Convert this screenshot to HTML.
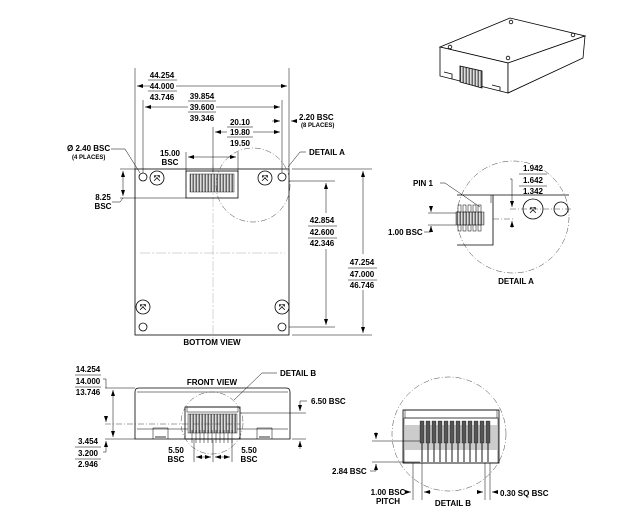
<!DOCTYPE html>
<html><head><style>
html,body{margin:0;padding:0;background:#fff;}
svg{display:block;}
text{font-family:"Liberation Sans",Arial,sans-serif;font-weight:bold;font-size:8px;fill:#000;}
.s{font-size:6px;}
.c{text-anchor:middle;}
.l{stroke:#000;stroke-width:0.8;fill:none;}
.t{stroke:#000;stroke-width:0.5;fill:none;}
.d{stroke:#444;stroke-width:0.5;fill:none;stroke-dasharray:6,2,1,2;}
.cl{stroke:#aaa;stroke-width:0.5;fill:none;stroke-dasharray:10,2,2,2;}
</style></head><body>
<svg width="632" height="516" viewBox="0 0 632 516" xmlns="http://www.w3.org/2000/svg">
<defs>
<marker id="a" markerWidth="6" markerHeight="6" refX="6" refY="3" orient="auto-start-reverse" markerUnits="userSpaceOnUse"><path d="M0,1 L6,3 L0,5z" fill="#000"/></marker>
<pattern id="p" width="3" height="4" patternUnits="userSpaceOnUse"><rect width="3" height="4" fill="#ddd"/><rect x="0.5" width="1.5" height="4" fill="#666"/></pattern>
</defs>

<!-- 3D iso -->
<g stroke="#000" stroke-width="0.8" fill="#fff">
<polygon points="440,47 510,18 585,36 508,63"/>
<polygon points="440,47 508,63 508,93 440,76"/>
<polygon points="508,63 585,36 583,58 508,93"/>
<polygon points="460,66 482,71 482,88 460,82" fill="url(#p)"/>
<circle cx="450" cy="47" r="1.8"/><circle cx="511" cy="22" r="1.8"/><circle cx="573" cy="35" r="1.8"/><circle cx="508" cy="58" r="1.8"/>
<polyline points="444,72 452,74 452,79" fill="none"/><polyline points="492,85 500,87 500,91" fill="none"/>
</g>

<!-- BOTTOM VIEW -->
<rect x="135" y="169" width="154" height="166" class="l"/>
<line x1="213" y1="165" x2="213" y2="340" class="cl"/>
<line x1="140" y1="253" x2="285" y2="253" class="cl"/>
<rect x="186" y="171" width="52" height="27" class="l"/>
<rect x="190" y="174" width="44" height="18" fill="url(#p)" stroke="#000" stroke-width="0.4"/>
<g class="l">
<circle cx="143" cy="177" r="4"/><circle cx="282" cy="177" r="4"/>
<circle cx="143" cy="327" r="4"/><circle cx="282" cy="327" r="4"/>
<circle cx="157" cy="178" r="7"/><circle cx="265" cy="178" r="7"/>
<circle cx="143" cy="307" r="7"/><circle cx="282" cy="307" r="7"/>
</g>
<g font-size="9" text-anchor="middle" font-weight="bold" font-family="Liberation Sans,sans-serif">
<text x="157" y="181" class="c">⤧</text><text x="265" y="181" class="c">⤧</text><text x="143" y="310" class="c">⤧</text><text x="282" y="310" class="c">⤧</text>
</g>
<circle cx="253" cy="185" r="37" class="d"/>

<!-- dims top -->
<line x1="135" y1="68" x2="135" y2="169" class="t"/><line x1="289" y1="68" x2="289" y2="169" class="t"/>
<line x1="137" y1="86" x2="150" y2="86" class="t" marker-start="url(#a)"/><line x1="176" y1="86" x2="287" y2="86" class="t" marker-end="url(#a)"/>
<text x="162" y="78" class="c">44.254</text><line x1="148" y1="80" x2="177" y2="80" class="t"/>
<text x="162" y="89" class="c">44.000</text><line x1="148" y1="91" x2="177" y2="91" class="t"/>
<text x="162" y="100" class="c">43.746</text>
<line x1="143" y1="100" x2="143" y2="173" class="t"/><line x1="282" y1="100" x2="282" y2="173" class="t"/>
<line x1="145" y1="107" x2="188" y2="107" class="t" marker-start="url(#a)"/><line x1="216" y1="107" x2="280" y2="107" class="t" marker-end="url(#a)"/>
<text x="202" y="99" class="c">39.854</text><line x1="188" y1="101" x2="216" y2="101" class="t"/>
<text x="202" y="110" class="c">39.600</text><line x1="188" y1="112" x2="216" y2="112" class="t"/>
<text x="202" y="121" class="c">39.346</text>
<line x1="213" y1="127" x2="213" y2="172" class="t"/>
<line x1="215" y1="132" x2="227" y2="132" class="t" marker-start="url(#a)"/><line x1="253" y1="132" x2="280" y2="132" class="t" marker-end="url(#a)"/>
<text x="240" y="125" class="c">20.10</text><line x1="227" y1="127" x2="253" y2="127" class="t"/>
<text x="240" y="135" class="c">19.80</text><line x1="227" y1="137" x2="253" y2="137" class="t"/>
<text x="240" y="146" class="c">19.50</text>
<line x1="272" y1="121" x2="280" y2="121" class="t" marker-end="url(#a)"/><line x1="297" y1="121" x2="291" y2="121" class="t" marker-end="url(#a)"/>
<text x="299" y="120">2.20 BSC</text><text x="301" y="127" class="s">(8 PLACES)</text>
<line x1="186" y1="152" x2="186" y2="172" class="t"/><line x1="238" y1="152" x2="238" y2="172" class="t"/>
<line x1="188" y1="157" x2="236" y2="157" class="t" marker-start="url(#a)" marker-end="url(#a)"/>
<text x="170" y="156" class="c">15.00</text><text x="170" y="165" class="c">BSC</text>
<text x="67" y="151">Ø 2.40 BSC</text><text x="72" y="159" class="s">(4 PLACES)</text>
<polyline points="111,149 125,149 140,173" class="t"/>
<line x1="120" y1="198" x2="186" y2="198" class="t"/>
<line x1="123" y1="171" x2="123" y2="196" class="t" marker-start="url(#a)" marker-end="url(#a)"/>
<line x1="120" y1="169" x2="135" y2="169" class="t"/>
<polyline points="112,202 120,202 123,198" class="t"/>
<text x="103" y="200" class="c">8.25</text><text x="103" y="209" class="c">BSC</text>
<polyline points="288,167 300,152 306,152" class="t"/><text x="309" y="155">DETAIL A</text>
<!-- right dims -->
<line x1="289" y1="181" x2="335" y2="181" class="t"/><line x1="289" y1="327" x2="335" y2="327" class="t"/>
<line x1="326" y1="183" x2="326" y2="213" class="t" marker-start="url(#a)"/><line x1="326" y1="249" x2="326" y2="325" class="t" marker-end="url(#a)"/>
<text x="322" y="223" class="c">42.854</text><line x1="308" y1="226" x2="337" y2="226" class="t"/>
<text x="322" y="235" class="c">42.600</text><line x1="308" y1="238" x2="337" y2="238" class="t"/>
<text x="322" y="246" class="c">42.346</text>
<line x1="292" y1="169" x2="372" y2="169" class="t"/><line x1="292" y1="335" x2="372" y2="335" class="t"/>
<line x1="363" y1="171" x2="363" y2="254" class="t" marker-start="url(#a)"/><line x1="363" y1="290" x2="363" y2="333" class="t" marker-end="url(#a)"/>
<text x="362" y="265" class="c">47.254</text><line x1="348" y1="268" x2="377" y2="268" class="t"/>
<text x="362" y="277" class="c">47.000</text><line x1="348" y1="280" x2="377" y2="280" class="t"/>
<text x="362" y="288" class="c">46.746</text>
<text x="212" y="345" class="c">BOTTOM VIEW</text>

<!-- DETAIL A -->
<circle cx="513" cy="217" r="56" class="d"/>
<line x1="457" y1="195" x2="569" y2="195" class="l"/>
<polyline points="457,245 493,245 493,195" class="l"/>
<line x1="491" y1="195" x2="491" y2="203" class="t"/>
<rect x="456" y="212" width="28" height="13" fill="url(#p)" stroke="#000" stroke-width="0.4"/>
<g class="t"><rect x="458" y="205" width="3" height="7"/><rect x="463" y="205" width="3" height="7"/><rect x="468" y="205" width="3" height="7"/><rect x="473" y="205" width="3" height="7"/><rect x="478" y="205" width="3" height="7"/>
<rect x="458" y="225" width="3" height="6"/><rect x="463" y="225" width="3" height="6"/><rect x="468" y="225" width="3" height="6"/><rect x="473" y="225" width="3" height="6"/><rect x="478" y="225" width="3" height="6"/></g>
<circle cx="533" cy="209" r="10" class="l"/><circle cx="561" cy="209" r="7" class="l"/>
<text x="533" y="213" class="c" font-size="10">⤧</text>
<line x1="510" y1="209" x2="572" y2="209" class="d"/>
<line x1="493" y1="219" x2="515" y2="219" class="d"/>
<line x1="512" y1="200" x2="512" y2="207" class="t" marker-end="url(#a)"/><line x1="512" y1="228" x2="512" y2="221" class="t" marker-end="url(#a)"/>
<polyline points="510,179 512,179 512,200" class="t"/>
<text x="533" y="171" class="c">1.942</text><line x1="519" y1="174" x2="547" y2="174" class="t"/>
<text x="533" y="183" class="c">1.642</text><line x1="519" y1="186" x2="547" y2="186" class="t"/>
<text x="533" y="194" class="c">1.342</text>
<text x="413" y="186">PIN 1</text><polyline points="440,183 445,183 480,207" class="t"/>
<line x1="428" y1="213" x2="456" y2="213" class="t"/><line x1="428" y1="225" x2="456" y2="225" class="t"/>
<line x1="431" y1="206" x2="431" y2="212" class="t" marker-end="url(#a)"/><line x1="431" y1="232" x2="431" y2="226" class="t" marker-end="url(#a)"/>
<polyline points="424,232 431,232 431,226" class="t"/>
<text x="388" y="235">1.00 BSC</text>
<text x="516" y="284" class="c">DETAIL A</text>

<!-- FRONT VIEW -->
<path d="M135,439 L135,392 Q135,388 139,388 L286,388 Q290,388 290,392 L290,439 Z" class="l"/>
<line x1="137" y1="392" x2="288" y2="392" class="t"/>
<line x1="137" y1="429" x2="288" y2="429" class="t"/>
<polyline points="153,439 153,428 168,428 168,439" class="t"/><polyline points="257,439 257,428 272,428 272,439" class="t"/>
<line x1="155" y1="437" x2="166" y2="437" class="l"/><line x1="259" y1="437" x2="270" y2="437" class="l"/>
<rect x="185" y="407" width="55" height="32" class="l"/>
<rect x="187" y="407" width="51" height="5" class="t"/>
<rect x="188" y="414" width="49" height="19" fill="url(#p)" stroke="#000" stroke-width="0.4"/>
<g stroke="#000" stroke-width="0.5"><line x1="192" y1="430" x2="192" y2="443"/><line x1="196" y1="430" x2="196" y2="443"/><line x1="200" y1="430" x2="200" y2="443"/><line x1="204" y1="430" x2="204" y2="443"/><line x1="208" y1="430" x2="208" y2="443"/><line x1="212" y1="430" x2="212" y2="443"/><line x1="216" y1="430" x2="216" y2="443"/><line x1="220" y1="430" x2="220" y2="443"/><line x1="224" y1="430" x2="224" y2="443"/><line x1="228" y1="430" x2="228" y2="443"/><line x1="232" y1="430" x2="232" y2="443"/></g>
<circle cx="212" cy="423" r="31" class="d"/>
<line x1="105" y1="424" x2="240" y2="424" class="d"/>
<line x1="240" y1="413" x2="306" y2="413" class="t"/>
<line x1="300" y1="402" x2="300" y2="411" class="t" marker-end="url(#a)"/><line x1="300" y1="449" x2="300" y2="441" class="t" marker-end="url(#a)"/>
<line x1="292" y1="439" x2="306" y2="439" class="t"/>
<polyline points="300,402 300,401 307,401" class="t"/><text x="311" y="404">6.50 BSC</text>
<line x1="105" y1="388" x2="135" y2="388" class="t"/><line x1="105" y1="439" x2="135" y2="439" class="t"/>
<line x1="113" y1="390" x2="113" y2="437" class="t" marker-start="url(#a)" marker-end="url(#a)"/>
<line x1="106" y1="417" x2="106" y2="422" class="t" marker-end="url(#a)"/><line x1="106" y1="446" x2="106" y2="441" class="t" marker-end="url(#a)"/>
<polyline points="103,379 106,379 106,388" class="t"/><polyline points="103,452 106,452 106,446" class="t"/>
<text x="88" y="372" class="c">14.254</text><line x1="75" y1="375" x2="101" y2="375" class="t"/>
<text x="88" y="384" class="c">14.000</text><line x1="75" y1="387" x2="101" y2="387" class="t"/>
<text x="88" y="395" class="c">13.746</text>
<text x="88" y="444" class="c">3.454</text><line x1="75" y1="447" x2="101" y2="447" class="t"/>
<text x="88" y="456" class="c">3.200</text><line x1="75" y1="459" x2="101" y2="459" class="t"/>
<text x="88" y="467" class="c">2.946</text>
<text x="212" y="385" class="c">FRONT VIEW</text>
<polyline points="234,400 262,373 277,373" class="t"/><text x="280" y="376">DETAIL B</text>
<line x1="194" y1="440" x2="194" y2="462" class="t"/><line x1="213" y1="440" x2="213" y2="462" class="t"/><line x1="232" y1="440" x2="232" y2="462" class="t"/>
<line x1="196" y1="457" x2="211" y2="457" class="t" marker-start="url(#a)" marker-end="url(#a)"/>
<line x1="215" y1="457" x2="230" y2="457" class="t" marker-start="url(#a)" marker-end="url(#a)"/>
<text x="176" y="453" class="c">5.50</text><text x="176" y="462" class="c">BSC</text>
<text x="249" y="453" class="c">5.50</text><text x="249" y="462" class="c">BSC</text>

<!-- DETAIL B -->
<circle cx="449" cy="434" r="57" class="d"/>
<rect x="403" y="410" width="96" height="53" class="l"/>
<rect x="405" y="410" width="92" height="8" class="t"/>
<rect x="405" y="425" width="92" height="25" fill="#ccc" stroke="none"/>
<rect x="404" y="418" width="94" height="45" class="t"/>
<g fill="#555" stroke="#000" stroke-width="0.3">
<rect x="420" y="421" width="4" height="22"/><rect x="426" y="421" width="4" height="22"/><rect x="432" y="421" width="4" height="22"/><rect x="438" y="421" width="4" height="22"/><rect x="444" y="421" width="4" height="22"/><rect x="450" y="421" width="4" height="22"/><rect x="456" y="421" width="4" height="22"/><rect x="462" y="421" width="4" height="22"/><rect x="468" y="421" width="4" height="22"/><rect x="474" y="421" width="4" height="22"/><rect x="480" y="421" width="4" height="22"/><rect x="486" y="421" width="4" height="22"/>
</g>
<g stroke="#000" stroke-width="0.9"><line x1="422" y1="443" x2="422" y2="462"/><line x1="428" y1="443" x2="428" y2="462"/><line x1="434" y1="443" x2="434" y2="462"/><line x1="440" y1="443" x2="440" y2="462"/><line x1="446" y1="443" x2="446" y2="462"/><line x1="452" y1="443" x2="452" y2="462"/><line x1="458" y1="443" x2="458" y2="462"/><line x1="464" y1="443" x2="464" y2="462"/><line x1="470" y1="443" x2="470" y2="462"/><line x1="476" y1="443" x2="476" y2="462"/><line x1="482" y1="443" x2="482" y2="462"/><line x1="488" y1="443" x2="488" y2="462"/></g>
<line x1="372" y1="441" x2="420" y2="441" class="t"/><line x1="372" y1="462" x2="420" y2="462" class="t"/>
<line x1="376" y1="432" x2="376" y2="439" class="t" marker-end="url(#a)"/><line x1="376" y1="470" x2="376" y2="464" class="t" marker-end="url(#a)"/>
<polyline points="370,471 376,471 376,464" class="t"/><text x="332" y="474">2.84 BSC</text>
<line x1="413" y1="463" x2="413" y2="500" class="t"/><line x1="422" y1="463" x2="422" y2="500" class="t"/>
<line x1="404" y1="492" x2="411" y2="492" class="t" marker-end="url(#a)"/><line x1="431" y1="492" x2="424" y2="492" class="t" marker-end="url(#a)"/>
<line x1="485" y1="463" x2="485" y2="500" class="t"/><line x1="490" y1="463" x2="490" y2="500" class="t"/>
<line x1="477" y1="492" x2="483" y2="492" class="t" marker-end="url(#a)"/><line x1="498" y1="492" x2="492" y2="492" class="t" marker-end="url(#a)"/>
<text x="388" y="495" class="c">1.00 BSC</text><text x="388" y="504" class="c">PITCH</text>
<text x="453" y="506" class="c">DETAIL B</text>
<text x="500" y="496">0.30 SQ BSC</text>
</svg>
</body></html>
